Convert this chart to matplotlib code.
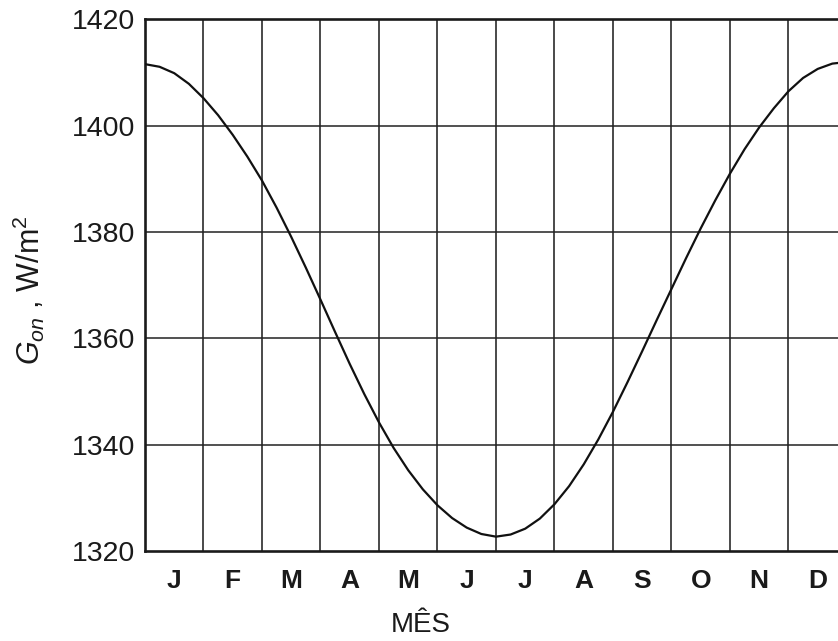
import numpy as np
import matplotlib.pyplot as plt

plt.rcParams['font.family'] = ['Liberation Sans', 'DejaVu Sans']
plt.rcParams['mathtext.fontset'] = 'custom'
plt.rcParams['mathtext.rm'] = 'Liberation Sans'
plt.rcParams['mathtext.it'] = 'Liberation Sans:italic'

# month position (0 = 1 Jan, 12 = end of Dec), read every quarter month
month_pos = np.arange(0, 12.01, 0.25)
g_on = [1411.6, 1411.1, 1409.9, 1407.9, 1405.2, 1402.0, 1398.3, 1394.2,
        1389.7, 1384.6, 1379.1, 1373.3, 1367.3, 1361.2, 1355.2, 1349.5,
        1344.2, 1339.4, 1335.2, 1331.6, 1328.6, 1326.2, 1324.4, 1323.2,
        1322.7, 1323.1, 1324.2, 1326.1, 1328.8, 1332.2, 1336.3, 1341.0,
        1346.2, 1351.8, 1357.6, 1363.5, 1369.3, 1375.1, 1380.7, 1386.0,
        1391.0, 1395.6, 1399.7, 1403.3, 1406.5, 1409.0, 1410.7, 1411.7,
        1412.0]

months = ['J', 'F', 'M', 'A', 'M', 'J', 'J', 'A', 'S', 'O', 'N', 'D']
y_ticks = [1320, 1340, 1360, 1380, 1400, 1420]

fig = plt.figure(figsize=(8.38, 6.41), dpi=100)
ax = fig.add_axes([0.173, 0.1404, 1.0107 - 0.173, 0.9696 - 0.1404])

# grid: month boundaries and horizontal lines
for m in range(1, 12):
    ax.axvline(m, color='#4a4a4a', lw=1.4, zorder=1)
for v in y_ticks[1:-1]:
    ax.axhline(v, color='#222222', lw=1.1, zorder=1)

ax.plot(month_pos, g_on, color='#111111', lw=1.6, zorder=3)

ax.set_xlim(0, 12)
ax.set_ylim(1320, 1420)

ax.set_yticks(y_ticks)
ax.set_yticklabels([str(t) for t in y_ticks], fontsize=20.5, color='#1a1a1a')
ax.tick_params(axis='y', length=0, pad=7)

ax.set_xticks([])
ax.set_xticks(np.arange(12) + 0.5, minor=True)
ax.set_xticklabels(months, minor=True, fontsize=19, fontweight='bold', color='#1a1a1a')
ax.tick_params(axis='x', which='both', length=0, pad=13)

for side in ['left', 'top', 'bottom']:
    ax.spines[side].set_linewidth(1.9)
    ax.spines[side].set_color('#1a1a1a')
ax.spines['right'].set_visible(False)

ax.set_ylabel(r'$G_{on}$ , W/m$^2$', fontsize=22, color='#1a1a1a')
ax.yaxis.set_label_coords(-0.14, 0.49)
fig.text(0.502, 0.014, 'MÊS', fontsize=20, ha='center', va='baseline', color='#1a1a1a')

fig.savefig('out.png', dpi=100)
